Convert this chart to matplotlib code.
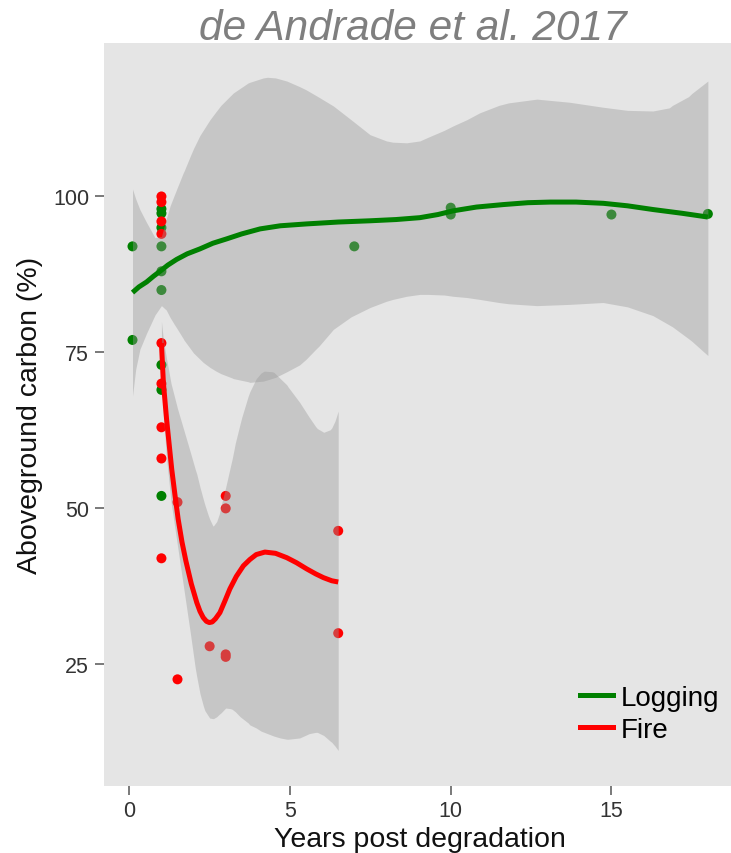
import matplotlib
matplotlib.use("Agg")
import matplotlib.pyplot as plt
from matplotlib.lines import Line2D

plt.rcParams['font.family'] = ['Liberation Sans', 'DejaVu Sans']

# observed points
logging_x = [0.1, 0.1, 1, 1, 1, 1, 1, 1, 1, 1, 1, 7, 10, 10, 15, 18]
logging_y = [92, 77, 98, 97.3, 95, 92, 88, 85, 73, 69, 52, 92, 98.2, 97.1, 97.1, 97.2]
fire_x = [1, 1, 1, 1, 1, 1, 1, 1, 1, 1.5, 1.5, 2.5, 3, 3, 3, 3, 6.5, 6.5]
fire_y = [100, 99.1, 96, 94, 76.5, 70, 63, 58, 42, 51, 22.6, 27.9, 52, 50, 26.6, 26.2, 46.4, 30]

# loess fits
logging_fit_x = [0.1, 0.3, 0.54, 0.75, 0.98, 1.2, 1.47, 1.8, 2.2, 2.6, 3.03, 3.5, 4.07, 4.7, 5.52, 6.5, 7.49, 8.3,
                 9.04, 9.6, 10.08, 10.8, 11.64, 12.4, 13.1, 13.9, 14.75, 15.5, 16.3, 17.2, 18]
logging_fit_y = [84.6, 85.5, 86.3, 87.2, 88.1, 89.0, 89.9, 90.8, 91.6, 92.5, 93.2, 94.0, 94.8, 95.3, 95.6, 95.9, 96.1, 96.3,
                 96.6, 97.1, 97.7, 98.3, 98.7, 99.0, 99.1, 99.1, 98.9, 98.5, 97.9, 97.3, 96.7]
fire_fit_x = [1.0, 1.06, 1.16, 1.25, 1.32, 1.42, 1.52, 1.64, 1.76, 1.93, 2.1, 2.2, 2.3, 2.4, 2.49, 2.58, 2.68, 2.82,
              2.97, 3.13, 3.33, 3.55, 3.75, 3.95, 4.22, 4.55, 4.9, 5.2, 5.52, 5.8, 6.04, 6.3, 6.5]
fire_fit_y = [76.5, 70.2, 64.3, 59.8, 56.3, 52.2, 48.3, 44.6, 41.6, 37.9, 34.9, 33.5, 32.5, 31.9, 31.7, 31.8, 32.3, 33.3,
              35.1, 37.1, 39.1, 40.8, 41.8, 42.6, 43.0, 42.8, 42.1, 41.3, 40.3, 39.5, 38.9, 38.4, 38.2]

# confidence bands
logging_band_x = [0.1, 0.2, 0.33, 0.54, 0.8, 1.0, 1.15, 1.27, 1.4, 1.5, 1.68, 1.7, 1.9, 2.0, 2.2, 2.3, 2.51, 2.7,
                  2.85, 3.2, 3.24, 3.7, 3.75, 4.17, 4.3, 4.55, 4.9, 5.3, 5.5, 5.8, 5.9, 6.35, 6.9, 7.49, 8.0, 8.2,
                  8.63, 9.04, 9.3, 9.8, 10.07, 10.5, 10.9, 11.5, 11.8, 12.68, 13.7, 14.74, 15.5, 16.29, 16.8, 16.9,
                  17.4, 17.5, 18.0]
logging_band_lo = [68.0, 72.3, 75.5, 78.1, 81.0, 82.5, 81.8, 80.6, 79.5, 78.7, 77.2, 77.0, 75.6, 74.9, 73.9, 73.4, 72.6, 72.0,
                   71.6, 70.9, 70.8, 70.3, 70.2, 70.4, 70.6, 71.0, 71.9, 73.0, 73.9, 75.5, 76.0, 78.7, 80.7, 82.2, 83.2, 83.5,
                   84.0, 84.3, 84.3, 84.2, 84.0, 83.8, 83.5, 83.0, 82.8, 82.5, 82.7, 83.0, 82.3, 80.9, 79.4, 79.1,
                   77.2, 76.8, 74.5]
logging_band_hi = [101.2, 99.6, 97.9, 95.8, 93.4, 93.6, 96.4, 98.5, 100.2, 101.5, 103.8, 104.0, 106.5, 107.7, 109.8, 110.6, 112.3, 113.6,
                   114.6, 116.4, 116.6, 118.2, 118.3, 119.0, 119.1, 119.0, 118.5, 117.6, 117.1, 116.2, 115.9, 114.5, 112.3, 109.9, 108.9, 108.7,
                   108.6, 108.9, 109.5, 110.6, 111.3, 112.3, 113.4, 114.6, 115.0, 115.6, 115.1, 114.3, 113.8, 113.7, 114.2, 114.6,
                   116.0, 116.5, 118.5]
fire_band_x = [1.0, 1.06, 1.16, 1.3, 1.5, 1.7, 1.9, 2.05, 2.1, 2.2, 2.3, 2.35, 2.45, 2.5, 2.6, 2.62, 2.72, 2.8, 2.85,
               3.0, 3.15, 3.2, 3.3, 3.45, 3.5, 3.7, 3.75, 3.95, 4.1, 4.2, 4.45, 4.5, 4.7, 4.9, 4.95, 5.3, 5.6, 5.8,
               5.85, 6.05, 6.25, 6.3, 6.4, 6.5]
fire_band_lo = [72, 65, 58, 51, 44, 37, 30, 24.5, 23.0, 20.3, 18.4, 17.6, 16.8, 16.4, 16.3, 16.3, 16.6, 17.0, 17.2,
                18.0, 17.9, 17.8, 17.4, 16.6, 16.4, 15.6, 15.3, 14.8, 14.3, 14.1, 13.6, 13.5, 13.2, 13.0, 13.0, 13.2, 13.9, 14.1,
                14.1, 13.6, 12.7, 12.5, 11.9, 11.2]
fire_band_hi = [80, 77, 74, 70, 66, 62.5, 59, 56.3, 55.5, 53.4, 51.5, 50.6, 49.0, 48.3, 47.2, 47.2, 47.9, 49.1, 50.3,
                53.4, 56.8, 57.9, 60.5, 63.6, 64.6, 68.0, 68.7, 70.8, 71.7, 72.0, 71.9, 71.8, 70.8, 69.8, 69.4, 67.0, 64.6, 63.1,
                62.8, 62.2, 62.6, 62.9, 64.0, 65.6]

x_ticks = [0, 5, 10, 15]
y_ticks = [25, 50, 75, 100]

GREEN = '#008000'
RED = '#FF0000'

fig = plt.figure(figsize=(7.31, 8.54), dpi=100)
ax = fig.add_axes([0.1419, 0.0788, 0.8658, 0.8697])
ax.set_facecolor('#E5E5E5')

ax.scatter(logging_x, logging_y, s=52, color=GREEN, edgecolors='none', zorder=2)
ax.scatter(fire_x, fire_y, s=52, color=RED, edgecolors='none', zorder=2)

ax.fill_between(logging_band_x, logging_band_lo, logging_band_hi, color='#999999', alpha=0.4, lw=0, zorder=3)
ax.plot(logging_fit_x, logging_fit_y, color=GREEN, lw=3.6, zorder=4, solid_capstyle='butt', solid_joinstyle='round')
ax.fill_between(fire_band_x, fire_band_lo, fire_band_hi, color='#999999', alpha=0.4, lw=0, zorder=3)
ax.plot(fire_fit_x, fire_fit_y, color=RED, lw=3.6, zorder=4, solid_capstyle='butt', solid_joinstyle='round')

ax.set_xlim(-0.795, 18.895)
ax.set_ylim(5.55, 124.6)
ax.set_xticks(x_ticks)
ax.set_yticks(y_ticks)
for s in ax.spines.values():
    s.set_visible(False)
ax.tick_params(length=6.5, width=1.1, color='#555555', labelsize=15.5, labelcolor='#333333', pad=4)

fig.text(30 / 731, 1 - 415 / 854, 'Aboveground carbon (%)', rotation=90, ha='center', va='center',
         fontsize=20.5, color='#111111')
fig.text(420 / 731, 1 - 847 / 854, 'Years post degradation', ha='center', va='baseline', fontsize=20.5, color='#111111')
fig.text(413 / 731, 1 - 40 / 854, 'de Andrade et al. 2017', ha='center', va='baseline', fontsize=30.5,
         style='italic', color='#7F7F7F')

handles = [Line2D([], [], color=GREEN, lw=3.6), Line2D([], [], color=RED, lw=3.6)]
ax.legend(handles, ['Logging', 'Fire'], loc='upper left', bbox_to_anchor=(580 / 731, 1 - 686 / 854),
          bbox_transform=fig.transFigure, frameon=False, fontsize=20, handlelength=1.2, handletextpad=0.25,
          labelspacing=0.2, borderpad=0, borderaxespad=0)

fig.savefig('out.png', dpi=100)
